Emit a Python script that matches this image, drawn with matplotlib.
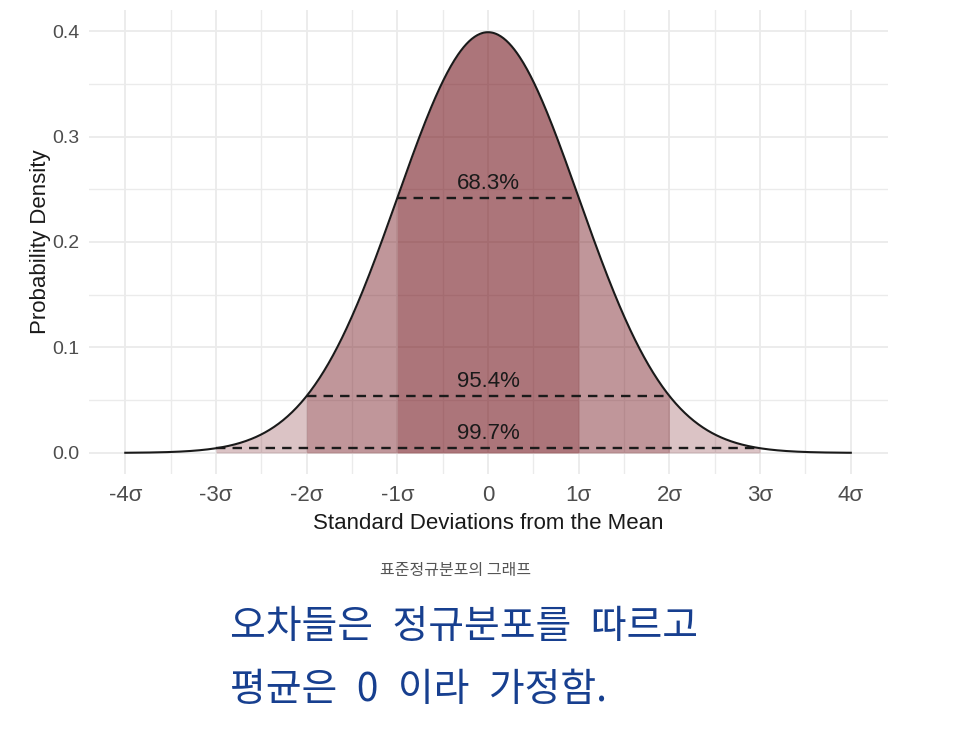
import numpy as np
import matplotlib
matplotlib.use("Agg")
import matplotlib.pyplot as plt
from matplotlib.ticker import MultipleLocator

# tick positions (in standard deviations) and their labels
sigma_ticks = [-4, -3, -2, -1, 0, 1, 2, 3, 4]
sigma_labels = ["-4σ", "-3σ", "-2σ", "-1σ", "0", "1σ", "2σ", "3σ", "4σ"]
y_ticks = [0.0, 0.1, 0.2, 0.3, 0.4]
y_labels = ["0.0", "0.1", "0.2", "0.3", "0.4"]

# coverage bands: half-width in sigma and the share inside
band_width = [3, 2, 1]
band_label = ["99.7%", "95.4%", "68.3%"]

caption = "표준정규분포의 그래프"
note_lines = ["오차들은 정규분포를 따르고", "평균은 0 이라 가정함."]


def pdf(x):
    return np.exp(-0.5 * np.asarray(x, dtype=float) ** 2) / np.sqrt(2 * np.pi)


plt.rcParams["font.family"] = ["Liberation Sans", "DejaVu Sans"]
KR = ["Noto Sans CJK KR", "DejaVu Sans"]

fig = plt.figure(figsize=(9.64, 7.38), dpi=100)
ax = fig.add_axes([89 / 964, 1 - 474 / 738, 799 / 964, 464 / 738])

x = np.linspace(sigma_ticks[0], sigma_ticks[-1], 801)
fill_color = "#73131b"
for w in band_width:
    xs = x[(x >= -w) & (x <= w)]
    ax.fill_between(xs, 0, pdf(xs), color=fill_color, alpha=0.25, lw=0, zorder=2)

ax.plot(x, pdf(x), color="#1a1a1a", lw=1.5, zorder=4)

for w, lab in zip(band_width, band_label):
    level = pdf(w)
    ax.plot([-w, w], [level, level], color="#1a1a1a", lw=1.7, ls=(0, (4, 3)), zorder=3)
    ax.text(0, level + 0.0135, lab, ha="center", va="center", fontsize=16, color="#1a1a1a", zorder=5)

ax.set_xlim(-4.4, 4.41)
ax.set_ylim(-0.02, 0.42)
ax.set_xticks(sigma_ticks)
ax.set_xticklabels(sigma_labels, fontsize=16, color="#4d4d4d")
ax.set_yticks(y_ticks)
ax.set_yticklabels(y_labels, fontsize=14, color="#4d4d4d")
ax.xaxis.set_minor_locator(MultipleLocator(0.5))
ax.yaxis.set_minor_locator(MultipleLocator(0.05))
ax.tick_params(which="both", length=0)
ax.tick_params(axis="x", pad=8)
ax.tick_params(axis="y", pad=7)
ax.grid(which="major", color="#ebebeb", lw=1.3, zorder=0)
ax.grid(which="minor", color="#ebebeb", lw=1.0, zorder=0)
ax.set_axisbelow(True)
for s in ax.spines.values():
    s.set_visible(False)

ax.set_xlabel("Standard Deviations from the Mean", fontsize=16, color="#1a1a1a", labelpad=5)
ax.set_ylabel("Probability Density", fontsize=16, color="#1a1a1a", labelpad=1)

fig.text(456 / 964, 1 - 570 / 738, caption, ha="center", va="center", fontsize=11.5,
         color="#555555", family=KR)
for i, line in enumerate(note_lines):
    fig.text(230 / 964, 1 - (627 + 63 * i) / 738, line.replace(" ", "\u2002"), ha="left",
             va="center", fontsize=28, color="#173f8f", family=KR)

fig.savefig("out.png", dpi=100)
